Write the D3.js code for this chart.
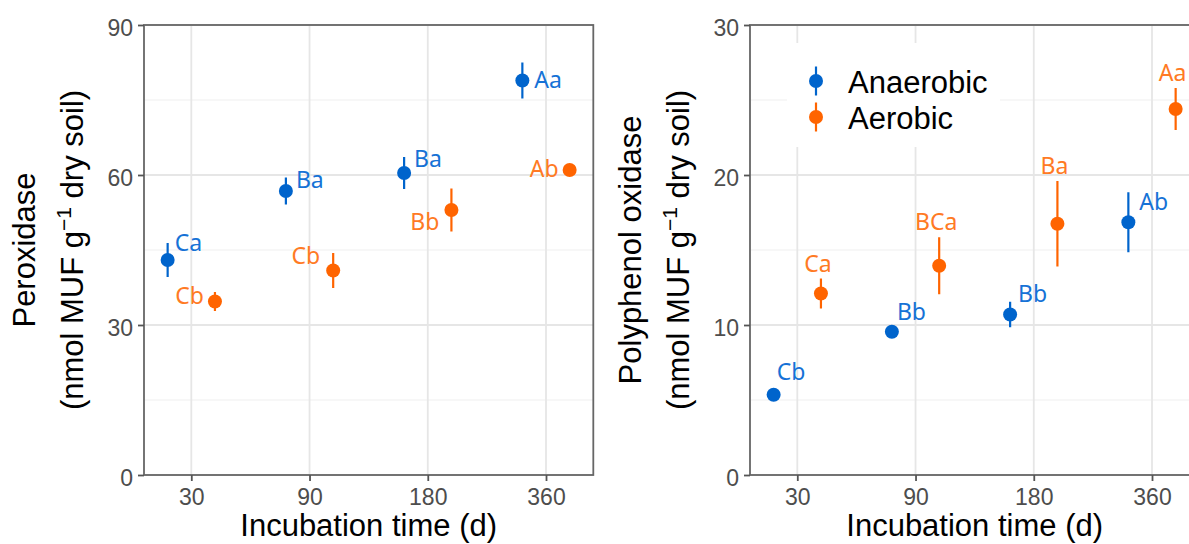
<!DOCTYPE html>
<html>
<head>
<meta charset="utf-8">
<script src="https://cdn.jsdelivr.net/npm/d3@7"></script>
<style>
  body { margin: 0; background: #fff; }
  svg { display: block; }
  text { white-space: pre; }
</style>
</head>
<body>
<svg id="chart" width="1189" height="544"></svg>
<script>
// Incubation times (discrete categories on the x axis)
const times = ["30", "90", "180", "360"];
const seriesNames = ["Anaerobic", "Aerobic"];

// Peroxidase (nmol MUF g-1 dry soil): means and standard errors
const peroxAnaerobic   = [43.0, 56.8, 60.4, 78.9];
const peroxAnaerobicSE = [3.4, 2.7, 3.2, 3.6];
const peroxAerobic     = [34.7, 40.9, 53.0, 61.0];
const peroxAerobicSE   = [1.9, 3.5, 4.3, 0.8];
const peroxAnaerobicLetters = ["Ca", "Ba", "Ba", "Aa"];
const peroxAerobicLetters   = ["Cb", "Cb", "Bb", "Ab"];
const peroxTicks = [0, 30, 60, 90];

// Polyphenol oxidase (nmol MUF g-1 dry soil): means and standard errors
const ppoAnaerobic   = [5.35, 9.55, 10.7, 16.85];
const ppoAnaerobicSE = [0.3, 0.3, 0.85, 2.0];
const ppoAerobic     = [12.1, 13.95, 16.75, 24.4];
const ppoAerobicSE   = [1.0, 1.9, 2.85, 1.4];
const ppoAnaerobicLetters = ["Cb", "Bb", "Bb", "Ab"];
const ppoAerobicLetters   = ["Ca", "BCa", "Ba", "Aa"];
const ppoTicks = [0, 10, 20, 30];

// Letter placement relative to each point (px): [dx, dy, anchor]
const peroxAnaerobicLabelPos = [[7, -9, "start"], [10, -3, "start"], [10, -6.5, "start"], [12, 7, "start"]];
const peroxAerobicLabelPos   = [[-11, 2, "end"], [-13, -6.5, "end"], [-12, 20, "end"], [-11, 7, "end"]];
const ppoAnaerobicLabelPos   = [[3, -15, "start"], [5, -12, "start"], [8, -13, "start"], [11, -12, "start"]];
const ppoAerobicLabelPos     = null; // placed above the upper error bar

const colors = { Anaerobic: "#0064cc", Aerobic: "#ff6400" };
const labelColors = { Anaerobic: "#1672d6", Aerobic: "#ff7a24" };

const svg = d3.select("#chart");
svg.append("rect").attr("width", 1189).attr("height", 544).attr("fill", "#fff");

const TOP = 25, BOTTOM = 475;
const titleFont = "'Liberation Sans', Arial, sans-serif";
const labelFont = "'Noto Sans', 'Open Sans', sans-serif";

const panels = [
  {
    left: 144, right: 593.3, yMax: 90, ticks: peroxTicks, title: "Peroxidase",
    series: [
      { name: "Anaerobic", values: peroxAnaerobic, se: peroxAnaerobicSE, letters: peroxAnaerobicLetters, pos: peroxAnaerobicLabelPos },
      { name: "Aerobic", values: peroxAerobic, se: peroxAerobicSE, letters: peroxAerobicLetters, pos: peroxAerobicLabelPos }
    ],
    legend: false
  },
  {
    left: 750, right: 1199.3, yMax: 30, ticks: ppoTicks, title: "Polyphenol oxidase",
    series: [
      { name: "Anaerobic", values: ppoAnaerobic, se: ppoAnaerobicSE, letters: ppoAnaerobicLetters, pos: ppoAnaerobicLabelPos },
      { name: "Aerobic", values: ppoAerobic, se: ppoAerobicSE, letters: ppoAerobicLetters, pos: ppoAerobicLabelPos }
    ],
    legend: true
  }
];

panels.forEach(p => {
  const x = d3.scalePoint().domain(times).range([p.left, p.right]).padding(0.4);
  const y = d3.scaleLinear().domain([0, p.yMax]).range([BOTTOM, TOP]);
  const dodge = x.step() * 0.2;
  const g = svg.append("g");

  // minor horizontal gridlines (midpoints between major ticks)
  const minor = p.ticks.slice(1).map((t, i) => (t + p.ticks[i]) / 2);
  g.selectAll(".minor").data(minor).join("line")
    .attr("x1", p.left).attr("x2", p.right)
    .attr("y1", d => y(d)).attr("y2", d => y(d))
    .attr("stroke", "#efefef").attr("stroke-width", 1.2);
  // major horizontal gridlines
  g.selectAll(".majorY").data(p.ticks).join("line")
    .attr("x1", p.left).attr("x2", p.right)
    .attr("y1", d => y(d)).attr("y2", d => y(d))
    .attr("stroke", "#e6e6e6").attr("stroke-width", 1.8);
  // vertical gridlines at each incubation time
  g.selectAll(".majorX").data(times).join("line")
    .attr("x1", d => x(d)).attr("x2", d => x(d))
    .attr("y1", TOP).attr("y2", BOTTOM)
    .attr("stroke", "#e6e6e6").attr("stroke-width", 1.8);

  // legend background box sits over the grid
  if (p.legend) {
    g.append("rect").attr("x", 787).attr("y", 43).attr("width", 213).attr("height", 104).attr("fill", "#fff");
  }

  // panel border
  g.append("rect")
    .attr("x", p.left).attr("y", TOP)
    .attr("width", p.right - p.left).attr("height", BOTTOM - TOP)
    .attr("fill", "none").attr("stroke", "#666").attr("stroke-width", 1.8);

  // axes
  const yAxis = g.append("g").attr("transform", `translate(${p.left},0)`)
    .call(d3.axisLeft(y).tickValues(p.ticks).tickSize(6).tickPadding(5));
  const xAxis = g.append("g").attr("transform", `translate(0,${BOTTOM})`)
    .call(d3.axisBottom(x).tickSize(6).tickPadding(8));
  [yAxis, xAxis].forEach(ax => {
    ax.select(".domain").remove();
    ax.selectAll(".tick line").attr("stroke", "#555").attr("stroke-width", 1.8);
    ax.selectAll(".tick text")
      .attr("fill", "#4d4d4d").attr("font-size", 23).attr("font-family", titleFont);
  });
  yAxis.selectAll(".tick text").attr("dy", "0.45em");

  // axis titles
  g.append("text")
    .attr("x", (p.left + p.right) / 2).attr("y", 536)
    .attr("text-anchor", "middle").attr("font-family", titleFont).attr("font-size", 31)
    .attr("fill", "#000").text("Incubation time (d)");

  const cy = (TOP + BOTTOM) / 2;
  g.append("text")
    .attr("transform", `translate(${p.left - 109},${cy}) rotate(-90)`)
    .attr("text-anchor", "middle").attr("font-family", titleFont).attr("font-size", 31)
    .attr("fill", "#000").text(p.title);
  const unit = g.append("text")
    .attr("transform", `translate(${p.left - 61},${cy}) rotate(-90)`)
    .attr("text-anchor", "middle").attr("font-family", titleFont).attr("font-size", 31)
    .attr("fill", "#000");
  unit.append("tspan").text("(nmol MUF g");
  unit.append("tspan").attr("font-size", 21).attr("dy", -12).text("\u22121");
  unit.append("tspan").attr("dy", 12).text(" dry soil)");

  // point ranges and letters
  p.series.forEach((s, si) => {
    const off = si === 0 ? -dodge : dodge;
    const rows = times.map((t, i) => ({ t, v: s.values[i], se: s.se[i], letter: s.letters[i], i }));
    const sg = g.append("g");
    sg.selectAll("line").data(rows).join("line")
      .attr("x1", d => x(d.t) + off).attr("x2", d => x(d.t) + off)
      .attr("y1", d => y(d.v - d.se)).attr("y2", d => y(d.v + d.se))
      .attr("stroke", colors[s.name]).attr("stroke-width", 2.2);
    sg.selectAll("circle").data(rows).join("circle")
      .attr("cx", d => x(d.t) + off).attr("cy", d => y(d.v)).attr("r", 7)
      .attr("fill", colors[s.name]);
    sg.selectAll("text").data(rows).join("text")
      .attr("font-family", labelFont).attr("font-size", 23)
      .attr("fill", labelColors[s.name])
      .attr("text-anchor", d => s.pos ? s.pos[d.i][2] : "middle")
      .attr("x", d => x(d.t) + off + (s.pos ? s.pos[d.i][0] : -3))
      .attr("y", d => s.pos ? y(d.v) + s.pos[d.i][1] : y(d.v + d.se) - 7)
      .text(d => d.letter);
  });

  // legend
  if (p.legend) {
    const lg = g.append("g");
    seriesNames.forEach((name, i) => {
      const ly = 81 + i * 36;
      lg.append("line").attr("x1", 816).attr("x2", 816).attr("y1", ly - 14.5).attr("y2", ly + 14.5)
        .attr("stroke", colors[name]).attr("stroke-width", 2.2);
      lg.append("circle").attr("cx", 816).attr("cy", ly).attr("r", 7).attr("fill", colors[name]);
      lg.append("text").attr("x", 848).attr("y", ly + 12)
        .attr("font-family", titleFont).attr("font-size", 31).attr("fill", "#000").text(name);
    });
  }
});
</script>
</body>
</html>
